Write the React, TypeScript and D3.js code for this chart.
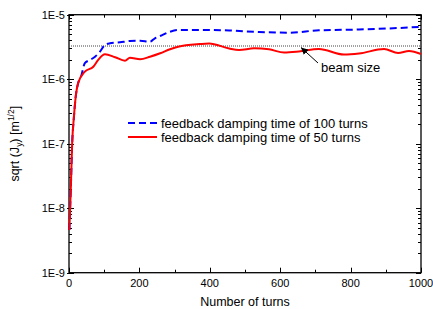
import * as d3 from "d3";
import React, { useEffect, useRef } from "react";

// feedback damping time of 100 turns
const turns100 = [1, 5, 9, 14, 19, 26, 34, 45, 60, 74, 88, 102, 116, 145, 173, 202, 230, 244, 259, 287, 310, 372, 455, 540, 625, 710, 824, 938, 1000];
const sqrtJ100 = [4.6e-9, 1.9e-8, 1.0e-7, 2.6e-7, 5.3e-7, 8.7e-7, 1.09e-6, 1.77e-6, 1.99e-6, 2.23e-6, 2.67e-6, 3.39e-6, 3.6e-6, 3.73e-6, 3.91e-6, 3.95e-6, 3.81e-6, 4.31e-6, 4.67e-6, 5.45e-6, 5.79e-6, 5.79e-6, 5.69e-6, 5.39e-6, 5.26e-6, 5.73e-6, 5.9e-6, 6.22e-6, 6.49e-6];

// feedback damping time of 50 turns
const turns50 = [1, 5, 9, 14, 19, 26, 45, 69, 83, 102, 131, 159, 173, 202, 230, 259, 287, 310, 372, 398, 455, 483, 526, 568, 611, 653, 710, 781, 824, 895, 935, 966, 1000];
const sqrtJ50 = [4.6e-9, 1.9e-8, 1.03e-7, 2.6e-7, 5.3e-7, 8.7e-7, 1.31e-6, 1.56e-6, 1.99e-6, 2.43e-6, 2.19e-6, 1.94e-6, 2.15e-6, 2.04e-6, 2.23e-6, 2.52e-6, 2.91e-6, 3.19e-6, 3.51e-6, 3.58e-6, 2.99e-6, 2.84e-6, 3.01e-6, 2.91e-6, 2.59e-6, 2.69e-6, 2.94e-6, 2.41e-6, 2.5e-6, 2.94e-6, 2.55e-6, 2.74e-6, 2.46e-6];

const beamSize = 3.27e-6;
const xTicks = [0, 200, 400, 600, 800, 1000];
const xMinor = [100, 300, 500, 700, 900];
const yTicks = [1e-9, 1e-8, 1e-7, 1e-6, 1e-5];
const yTickLabels = ["1E-9", "1E-8", "1E-7", "1E-6", "1E-5"];
const legendLabels = ["feedback damping time of 100 turns", "feedback damping time of 50 turns"];

const width = 433;
const height = 309;
const m = { left: 69, right: 12, top: 14.7, bottom: 36.3 };
const font = "'Liberation Sans', Arial, sans-serif";

export default function App() {
  const ref = useRef<SVGSVGElement | null>(null);

  useEffect(() => {
    const svg = d3.select(ref.current);
    svg.selectAll("*").remove();

    const x = d3.scaleLinear().domain([0, 1000]).range([m.left, width - m.right]);
    const y = d3.scaleLog().domain([1e-9, 1e-5]).range([height - m.bottom, m.top]);
    const [x0, x1] = x.range();
    const [y0, y1] = y.range();

    const g = svg.append("g");

    // minor log ticks
    const minorY: number[] = [];
    for (let e = -9; e < -5; e++) for (let k = 2; k <= 9; k++) minorY.push(k * Math.pow(10, e));

    const ticks = g.append("g").attr("stroke", "#000").attr("stroke-width", 1);
    minorY.forEach((v) => {
      const yy = Math.round(y(v)) + 0.5;
      ticks.append("line").attr("x1", x0).attr("x2", x0 + 3).attr("y1", yy).attr("y2", yy);
      ticks.append("line").attr("x1", x1).attr("x2", x1 - 3).attr("y1", yy).attr("y2", yy);
    });
    yTicks.forEach((v) => {
      const yy = Math.round(y(v)) + 0.5;
      ticks.append("line").attr("x1", x0 - 2).attr("x2", x0 + 5).attr("y1", yy).attr("y2", yy);
      ticks.append("line").attr("x1", x1).attr("x2", x1 - 5).attr("y1", yy).attr("y2", yy);
    });
    xTicks.forEach((v) => {
      const xx = Math.round(x(v)) + 0.5;
      ticks.append("line").attr("x1", xx).attr("x2", xx).attr("y1", y0).attr("y2", y0 - 5);
      ticks.append("line").attr("x1", xx).attr("x2", xx).attr("y1", y1).attr("y2", y1 + 5);
    });
    xMinor.forEach((v) => {
      const xx = Math.round(x(v)) + 0.5;
      ticks.append("line").attr("x1", xx).attr("x2", xx).attr("y1", y0).attr("y2", y0 - 3);
      ticks.append("line").attr("x1", xx).attr("x2", xx).attr("y1", y1).attr("y2", y1 + 3);
    });

    // frame
    g.append("rect")
      .attr("x", x0)
      .attr("y", y1)
      .attr("width", x1 - x0)
      .attr("height", y0 - y1)
      .attr("fill", "none")
      .attr("stroke", "#000")
      .attr("stroke-width", 1.3);

    // beam size line
    g.append("line")
      .attr("x1", x0 + 2)
      .attr("x2", x1)
      .attr("y1", y(beamSize))
      .attr("y2", y(beamSize))
      .attr("stroke", "#444")
      .attr("stroke-width", 1)
      .attr("stroke-dasharray", "1,1");

    const line = d3
      .line<[number, number]>()
      .x((d) => x(d[0]))
      .y((d) => y(d[1]))
      .curve(d3.curveMonotoneX);

    g.append("path")
      .attr("d", line(turns100.map((t, i) => [t, sqrtJ100[i]])))
      .attr("fill", "none")
      .attr("stroke", "#0000ff")
      .attr("stroke-width", 2)
      .attr("stroke-dasharray", "7,4");

    g.append("path")
      .attr("d", line(turns50.map((t, i) => [t, sqrtJ50[i]])))
      .attr("fill", "none")
      .attr("stroke", "#ff0000")
      .attr("stroke-width", 2);

    // tick labels
    const labels = g.append("g").attr("font-family", font).attr("font-size", 11).attr("fill", "#000");
    xTicks.forEach((v) => {
      labels.append("text").attr("x", x(v)).attr("y", y0 + 14).attr("text-anchor", "middle").text(v);
    });
    yTicks.forEach((v, i) => {
      labels
        .append("text")
        .attr("x", x0 - 4)
        .attr("y", y(v))
        .attr("dy", "0.35em")
        .attr("text-anchor", "end")
        .text(yTickLabels[i]);
    });

    // axis titles
    g.append("text")
      .attr("x", (x0 + x1) / 2)
      .attr("y", 306)
      .attr("text-anchor", "middle")
      .attr("font-family", font)
      .attr("font-size", 12.5)
      .text("Number of turns");

    const yt = g
      .append("text")
      .attr("transform", `translate(19,${(y0 + y1) / 2}) rotate(-90)`)
      .attr("text-anchor", "middle")
      .attr("font-family", font)
      .attr("font-size", 12.5);
    yt.append("tspan").text("sqrt (J");
    yt.append("tspan").attr("font-size", 8.5).attr("dy", 3).text("y");
    yt.append("tspan").attr("dy", -3).text(") [m");
    yt.append("tspan").attr("font-size", 8.5).attr("dy", -5).text("1/2");
    yt.append("tspan").attr("dy", 5).text("]");

    // legend
    const lg = g.append("g").attr("font-family", font).attr("font-size", 13);
    [
      { c: "#0000ff", dash: "7,4" },
      { c: "#ff0000", dash: null },
    ].forEach((s, i) => {
      const ly = 123 + i * 14;
      lg.append("line")
        .attr("x1", 128)
        .attr("x2", 157)
        .attr("y1", ly)
        .attr("y2", ly)
        .attr("stroke", s.c)
        .attr("stroke-width", 2)
        .attr("stroke-dasharray", s.dash);
      lg.append("text").attr("x", 161).attr("y", ly).attr("dy", "0.36em").text(legendLabels[i]);
    });

    // beam size annotation
    g.append("defs")
      .append("marker")
      .attr("id", "arrow")
      .attr("viewBox", "0 0 10 10")
      .attr("refX", 10)
      .attr("refY", 5)
      .attr("markerWidth", 7)
      .attr("markerHeight", 7)
      .attr("orient", "auto")
      .attr("markerUnits", "userSpaceOnUse")
      .append("path")
      .attr("d", "M0,0 L10,5 L0,10 z")
      .attr("fill", "#000");
    g.append("line")
      .attr("x1", 318)
      .attr("y1", 63)
      .attr("x2", 301)
      .attr("y2", 47.5)
      .attr("stroke", "#000")
      .attr("stroke-width", 1)
      .attr("marker-end", "url(#arrow)");
    g.append("text")
      .attr("x", 321)
      .attr("y", 72)
      .attr("font-family", font)
      .attr("font-size", 13)
      .text("beam size");
  }, []);

  return (
    <div style={{ position: "absolute", left: 0, top: 0 }}>
      <svg ref={ref} width={width} height={height} style={{ display: "block", background: "#fff" }} />
    </div>
  );
}
